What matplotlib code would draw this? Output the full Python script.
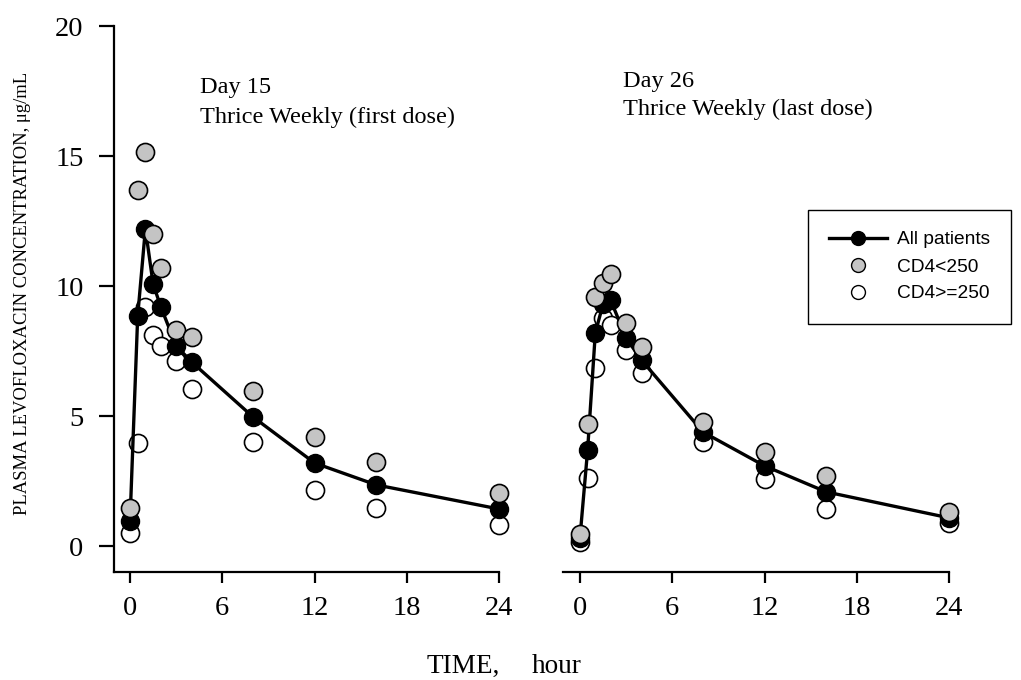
import matplotlib
matplotlib.use("Agg")
import matplotlib.pyplot as plt
from matplotlib.lines import Line2D
from matplotlib.font_manager import FontProperties

# ---------------- data ----------------
time_h = [0, 0.5, 1, 1.5, 2, 3, 4, 8, 12, 16, 24]

day15_all = [0.96, 8.85, 12.2, 10.08, 9.2, 7.7, 7.08, 4.96, 3.19, 2.35, 1.42]
day15_cd4_low = [1.46, 13.7, 15.15, 12.0, 10.7, 8.3, 8.04, 5.96, 4.19, 3.23, 2.04]
day15_cd4_high = [0.5, 3.96, 9.2, 8.1, 7.7, 7.1, 6.05, 4.0, 2.15, 1.46, 0.81]

day26_all = [0.3, 3.7, 8.2, 9.3, 9.45, 8.0, 7.15, 4.38, 3.08, 2.08, 1.08]
day26_cd4_low = [0.45, 4.7, 9.58, 10.1, 10.45, 8.58, 7.65, 4.77, 3.6, 2.7, 1.3]
day26_cd4_high = [0.15, 2.6, 6.85, 8.77, 8.5, 7.54, 6.65, 4.0, 2.58, 1.42, 0.88]

x_ticks = [0, 6, 12, 18, 24]
y_ticks = [0, 5, 10, 15, 20]
legend_labels = ["All patients", "CD4<250", "CD4>=250"]
panel_titles = [("Day 15", "Thrice Weekly (first dose)"),
                ("Day 26", "Thrice Weekly (last dose)")]

# ---------------- style ----------------
plt.rcParams['font.family'] = ['Liberation Serif', 'DejaVu Serif']
W, H = 1021, 680
GRAY = '#c4c4c4'
MS = 13

fig = plt.figure(figsize=(W / 100, H / 100), dpi=100)
fig.patch.set_facecolor('white')

ax1 = fig.add_axes([114 / W, 1 - 572 / H, 397.7 / W, 546 / H])
ax2 = fig.add_axes([563 / W, 1 - 572 / H, 398.7 / W, 546 / H])


def draw(ax, allp, low, high, x0):
    ax.plot(time_h, high, linestyle='none', marker='o', ms=MS, mfc='white',
            mec='black', mew=1.2, zorder=2, clip_on=False)
    ax.plot(time_h, allp, color='black', lw=2.4, marker='o', ms=MS,
            mfc='black', mec='black', zorder=3, clip_on=False)
    ax.plot(time_h, low, linestyle='none', marker='o', ms=MS, mfc=GRAY,
            mec='black', mew=1.2, zorder=4, clip_on=False)
    ax.set_xlim(x0, 24.8)
    ax.set_ylim(-1.0, 20)
    ax.set_xticks(x_ticks)
    ax.set_xticklabels([str(v) for v in x_ticks])
    ax.spines['top'].set_visible(False)
    ax.spines['right'].set_visible(False)
    ax.spines['bottom'].set_bounds(x0, 24)
    for s in ax.spines.values():
        s.set_linewidth(1.6)
    ax.tick_params(axis='x', direction='out', length=8, width=1.6, pad=9,
                   labelsize=20.5)
    ax.set_facecolor('none')


draw(ax1, day15_all, day15_cd4_low, day15_cd4_high, -1.04)
draw(ax2, day26_all, day26_cd4_low, day26_cd4_high, -1.1)

ax1.set_yticks(y_ticks)
ax1.set_yticklabels([str(v) for v in y_ticks])
ax1.tick_params(axis='y', direction='out', length=11, width=1.6, pad=11,
                labelsize=20.5)

ax2.spines['left'].set_visible(False)
ax2.set_yticks([])

# panel annotations
fs_ann = 17.5
fig.text(200 / W, 1 - 93 / H, panel_titles[0][0], fontsize=fs_ann, va='baseline', ha='left')
fig.text(200 / W, 1 - 123 / H, panel_titles[0][1], fontsize=fs_ann, va='baseline', ha='left')
fig.text(623 / W, 1 - 87 / H, panel_titles[1][0], fontsize=fs_ann, va='baseline', ha='left')
fig.text(623 / W, 1 - 115 / H, panel_titles[1][1], fontsize=fs_ann, va='baseline', ha='left')

# axis labels
fig.text(23 / W, 1 - 293 / H, "PLASMA LEVOFLOXACIN CONCENTRATION, \u03bcg/mL",
         rotation=90, fontsize=13.4, ha='center', va='center')
fig.text(427 / W, 1 - 673 / H, "TIME,", fontsize=19.6, ha='left', va='baseline')
fig.text(532 / W, 1 - 673 / H, "hour", fontsize=19.6, ha='left', va='baseline')

# legend
handles = [
    Line2D([], [], color='black', lw=2.4, marker='o', ms=10, mfc='black', mec='black'),
    Line2D([], [], linestyle='none', marker='o', ms=10, mfc=GRAY, mec='black', mew=1.0),
    Line2D([], [], linestyle='none', marker='o', ms=10, mfc='white', mec='black', mew=1.0),
]
leg = fig.legend(handles, legend_labels, loc='upper left',
                 bbox_to_anchor=(808 / W, 1 - 210 / H), borderaxespad=0,
                 frameon=True, fancybox=False, edgecolor='black', framealpha=1,
                 prop=FontProperties(family='Liberation Sans', size=13.8),
                 borderpad=1.1, handlelength=3.0, handletextpad=0.55,
                 labelspacing=0.5)
leg.get_frame().set_linewidth(1.0)

fig.savefig('out.png', dpi=100, facecolor='white')
